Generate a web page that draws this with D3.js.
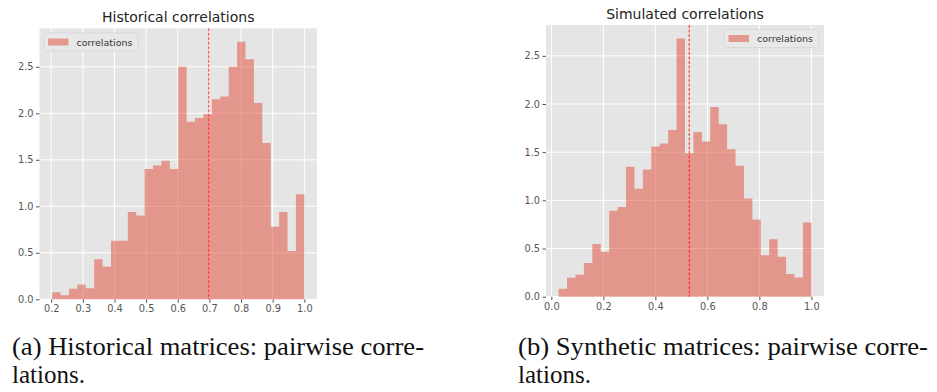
<!DOCTYPE html>
<html>
<head>
<meta charset="utf-8">
<script src="https://cdn.jsdelivr.net/npm/d3@7"></script>
<style>
  body { margin: 0; background: #fff; }
  svg { display: block; }
  .cap { font-family: 'Liberation Serif', 'Times New Roman', serif; font-size: 25px; }
</style>
</head>
<body>
<div class="graphic"></div>
<script>
// histogram densities, 30 bins each
const histStart = 0.203, histEnd = 1.0;
const histValues = [0.075, 0.043, 0.114, 0.16, 0.118, 0.43, 0.35, 0.63, 0.63, 0.94,
  0.90, 1.40, 1.44, 1.49, 1.40, 2.50, 1.91, 1.95, 1.99, 2.15,
  2.18, 2.50, 2.77, 2.58, 2.11, 1.68, 0.78, 0.94, 0.52, 1.13];
const histMean = 0.698;

const simStart = 0.028, simEnd = 1.0;
const simValues = [0.083, 0.197, 0.228, 0.35, 0.546, 0.467, 0.892, 0.93, 1.35, 1.12,
  1.32, 1.56, 1.59, 1.73, 2.68, 1.49, 1.71, 1.61, 1.97, 1.79,
  1.53, 1.36, 1.02, 0.80, 0.43, 0.595, 0.415, 0.235, 0.20, 0.77];
const simMean = 0.5305;

const histXTicks = [0.2, 0.3, 0.4, 0.5, 0.6, 0.7, 0.8, 0.9, 1.0];
const simXTicks = [0.0, 0.2, 0.4, 0.6, 0.8, 1.0];
const yTicks = [0.0, 0.5, 1.0, 1.5, 2.0, 2.5];

const captions = [
  ['(a) Historical matrices: pairwise corre-', 'lations.'],
  ['(b) Synthetic matrices: pairwise corre-', 'lations.']
];

const W = 937, H = 392;
const svg = d3.select('.graphic').append('svg')
  .attr('width', W).attr('height', H);

function drawPanel(cfg) {
  const x = d3.scaleLinear().domain(cfg.xDomain).range([cfg.left, cfg.right]);
  const y = d3.scaleLinear().domain([0, cfg.yMax]).range([cfg.bottom, cfg.top]);
  const g = svg.append('g');

  g.append('rect')
    .attr('x', cfg.left).attr('y', cfg.top)
    .attr('width', cfg.right - cfg.left).attr('height', cfg.bottom - cfg.top)
    .attr('fill', '#e5e5e5');

  // grid
  g.selectAll('.vgrid').data(cfg.xTicks).enter().append('line')
    .attr('x1', d => x(d)).attr('x2', d => x(d))
    .attr('y1', cfg.top).attr('y2', cfg.bottom)
    .attr('stroke', '#fff').attr('stroke-width', 1);
  g.selectAll('.hgrid').data(yTicks).enter().append('line')
    .attr('x1', cfg.left).attr('x2', cfg.right)
    .attr('y1', d => y(d)).attr('y2', d => y(d))
    .attr('stroke', '#fff').attr('stroke-width', 1);

  // bars as one stepped shape so neighbours don't overlap
  const n = cfg.values.length;
  const bw = (cfg.end - cfg.start) / n;
  const pts = cfg.values.map((v, i) => [cfg.start + i * bw, v]);
  pts.push([cfg.end, cfg.values[n - 1]]);
  const area = d3.area()
    .x(d => x(d[0]))
    .y0(y(0))
    .y1(d => y(d[1]))
    .curve(d3.curveStepAfter);
  g.append('path')
    .datum(pts)
    .attr('d', area)
    .attr('fill', '#E24A33')
    .attr('fill-opacity', 0.5);

  g.append('line')
    .attr('x1', x(cfg.mean)).attr('x2', x(cfg.mean))
    .attr('y1', cfg.top).attr('y2', cfg.bottom)
    .attr('stroke', '#ff2020').attr('stroke-opacity', 0.75)
    .attr('stroke-width', 1.3)
    .attr('stroke-dasharray', '3,1.5');

  // axes
  const xAxis = d3.axisBottom(x).tickValues(cfg.xTicks).tickFormat(d3.format('.1f'))
    .tickSize(3.5).tickPadding(2.5);
  const yAxis = d3.axisLeft(y).tickValues(yTicks).tickFormat(d3.format('.1f'))
    .tickSize(3.5).tickPadding(2.5);
  const xa = g.append('g').attr('transform', 'translate(0,' + cfg.bottom + ')').call(xAxis);
  const ya = g.append('g').attr('transform', 'translate(' + cfg.left + ',0)').call(yAxis);
  [xa, ya].forEach(a => {
    a.select('.domain').remove();
    a.selectAll('line').attr('stroke', '#555');
    a.selectAll('text').attr('fill', '#555')
      .style('font-family', 'DejaVu Sans').style('font-size', '9.8px');
  });

  g.append('text')
    .attr('x', (cfg.left + cfg.right) / 2).attr('y', cfg.top - 6)
    .attr('text-anchor', 'middle')
    .style('font-family', 'DejaVu Sans').style('font-size', '14px')
    .attr('fill', '#222')
    .text(cfg.title);

  // legend
  const lg = g.append('g');
  lg.append('rect')
    .attr('x', cfg.legX).attr('y', cfg.legY)
    .attr('width', 94).attr('height', 18).attr('rx', 2)
    .attr('fill', '#e8e8e8').attr('stroke', '#d6d6d6').attr('stroke-width', 0.8);
  lg.append('rect')
    .attr('x', cfg.legX + 4).attr('y', cfg.legY + 5.5)
    .attr('width', 20.5).attr('height', 7)
    .attr('fill', '#E24A33').attr('fill-opacity', 0.5);
  lg.append('text')
    .attr('x', cfg.legX + 32.5).attr('y', cfg.legY + 12.5)
    .style('font-family', 'DejaVu Sans').style('font-size', '9.5px')
    .attr('fill', '#333')
    .text('correlations');

  // caption
  g.append('text')
    .attr('class', 'cap')
    .attr('x', cfg.capX).attr('y', 355)
    .attr('fill', '#111')
    .attr('textLength', cfg.capW).attr('lengthAdjust', 'spacingAndGlyphs')
    .text(cfg.caption[0]);
  g.append('text')
    .attr('class', 'cap')
    .attr('x', cfg.capX).attr('y', 383)
    .attr('fill', '#111')
    .text(cfg.caption[1]);
}

drawPanel({
  title: 'Historical correlations',
  left: 39.5, right: 317, top: 28.3, bottom: 299.3,
  xDomain: [0.163, 1.04], yMax: 2.914,
  start: histStart, end: histEnd, values: histValues, mean: histMean,
  xTicks: histXTicks,
  legX: 44, legY: 33,
  caption: captions[0], capX: 12, capW: 412
});

drawPanel({
  title: 'Simulated correlations',
  left: 546, right: 824, top: 25, bottom: 296.7,
  xDomain: [-0.0206, 1.0486], yMax: 2.82,
  start: simStart, end: simEnd, values: simValues, mean: simMean,
  xTicks: simXTicks,
  legX: 724.5, legY: 29.5,
  caption: captions[1], capX: 518, capW: 410
});
</script>
</body>
</html>
